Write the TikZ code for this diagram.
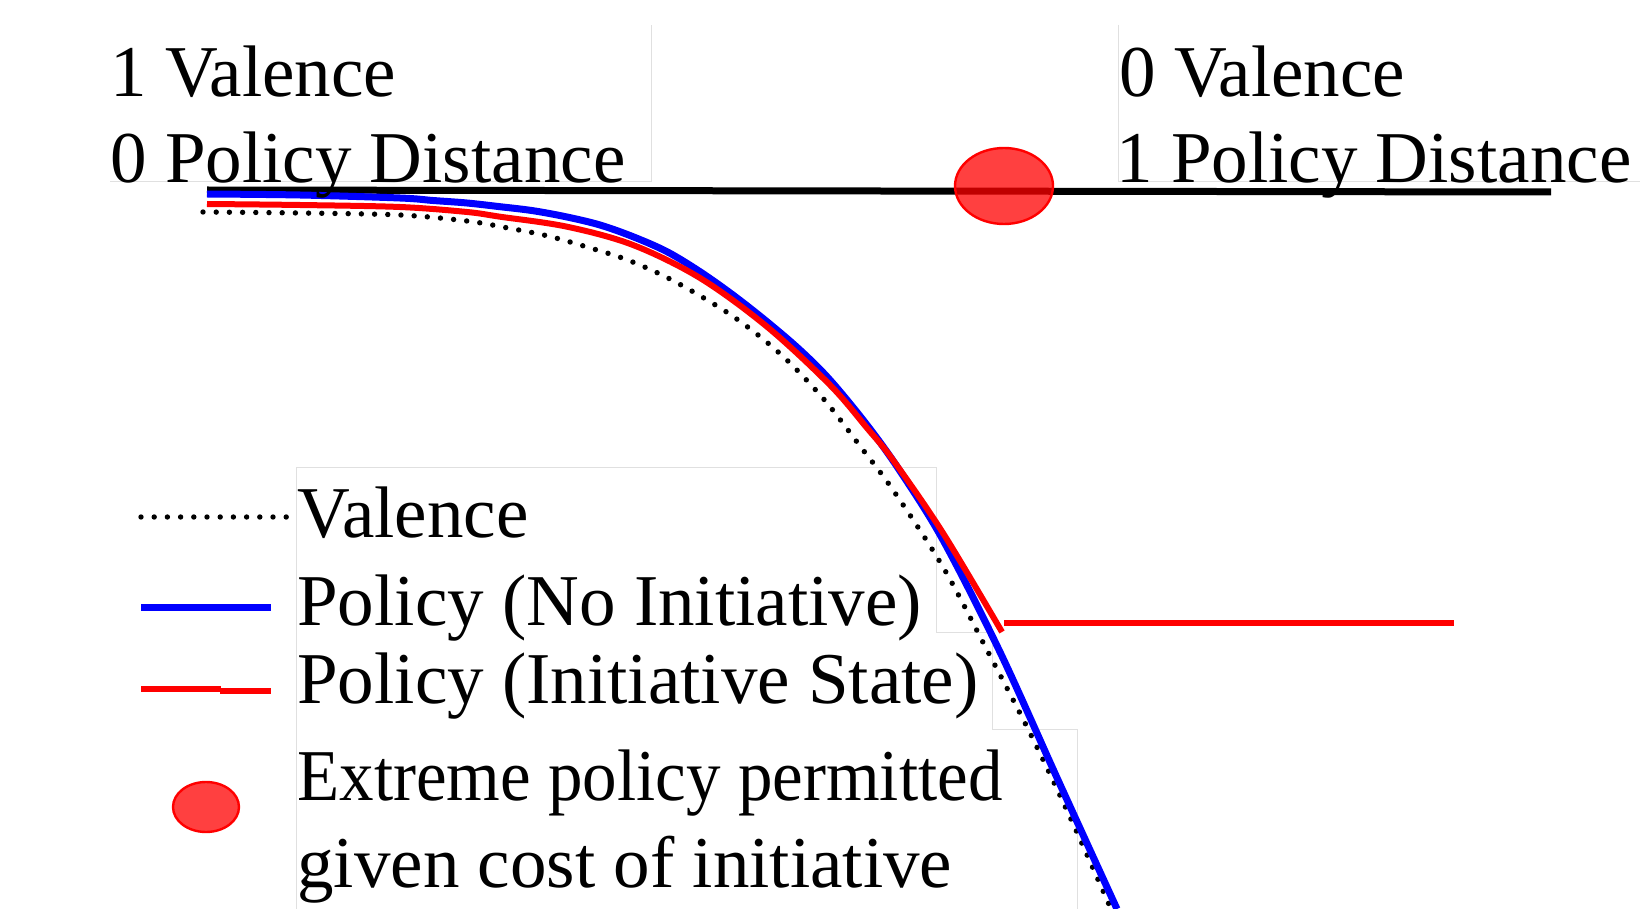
\documentclass[tikz,border=0pt]{standalone}
\usepackage{fontspec}
\setmainfont{Liberation Serif}
\begin{document}
\begin{tikzpicture}[x=0.5pt,y=-0.5pt,
  lbl/.style={anchor=base west,inner sep=0pt,font=\fontsize{36.5pt}{40pt}\selectfont},
  frame/.style={draw=black!12,line width=0.5pt},
  blueln/.style={draw=blue,line width=3.5pt},
  redln/.style={draw=red,line width=3pt},
  dotln/.style={draw=black,line width=2.7pt,line cap=round,dash pattern=on 0pt off 6.6pt},
  marker/.style={fill=red,fill opacity=0.75,draw=red,line width=1.2pt}]
\useasboundingbox (0,0) rectangle (1640,909);
\fill[white] (0,0) rectangle (1640,909);
% faint text frames
\draw[frame] (110,182) -- (651,182) -- (651,25);
\draw[frame] (1118,25) -- (1118,182) -- (1640,182);
\draw[frame] (296,909) -- (296,467) -- (936,467) -- (936,632) -- (992,632) -- (992,729) -- (1077,729) -- (1077,909);
% axis line
\draw[black,line width=3.5pt] (207,190) -- (1551,192);
% valence (dotted)
\draw[dotln] plot[smooth,tension=0.55] coordinates {(203,212) (300,213) (400,215) (467,221) (508,228) (548,236) (587,247) (625,259) (662,275) (697,294) (731,315) (763,339) (793,366) (827,403) (860,446) (893,490) (943,567) (987,650) (1030,733) (1070,817) (1111,909)};
% policy no initiative (blue)
\draw[blueln] plot[smooth,tension=0.55] coordinates {(207,194) (300,195) (400,198) (433,200.5) (467,203) (500,206.7) (533,210.7) (567,217) (600,225) (633,236.7) (667,251.7) (700,271.7) (733,295) (767,321.7) (800,350) (830,380) (867,425) (900,471) (943,540) (1000,652) (1058,780) (1117,909)};
% policy initiative state (red)
\draw[redln] plot[smooth,tension=0.55] coordinates {(207,204) (300,205) (400,207) (467,212) (500,216.7) (567,226.7) (633,245) (700,278) (767,326.7) (830,385) (867,428) (893,460) (943,533) (1002,632)};
\draw[redln] (1004,623) -- (1454,623);
% extreme policy marker
\path[marker] (1004,186) ellipse [x radius=49, y radius=38];
% top labels
\node[lbl] (v1) at (110,97) {1 Valence};
\node[lbl] (p0) at (110,183) {0 Policy Distance};
\node[lbl] (v0) at (1119,97) {0 Valence};
\node[lbl] (p1) at (1116,183) {1 Policy Distance};
% legend
\draw[dotln] (141,517) -- (291,517);
\draw[blueln] (141,607) -- (271,607);
\draw[redln] (141,689) -- (221,689);
\draw[redln] (220,691) -- (271,691);
\path[marker] (206,807) ellipse [x radius=33, y radius=25];
\node[lbl] (lv) at (297,538) {Valence};
\node[lbl] (lb) at (297,625) {Policy (No Initiative)};
\node[lbl] (lr) at (297,703) {Policy (Initiative State)};
\node[lbl] (le1) at (297,800) {\scalebox{0.945}[1]{Extreme policy permitted}};
\node[lbl] (le2) at (297,887) {given cost of initiative};
\end{tikzpicture}
\end{document}
